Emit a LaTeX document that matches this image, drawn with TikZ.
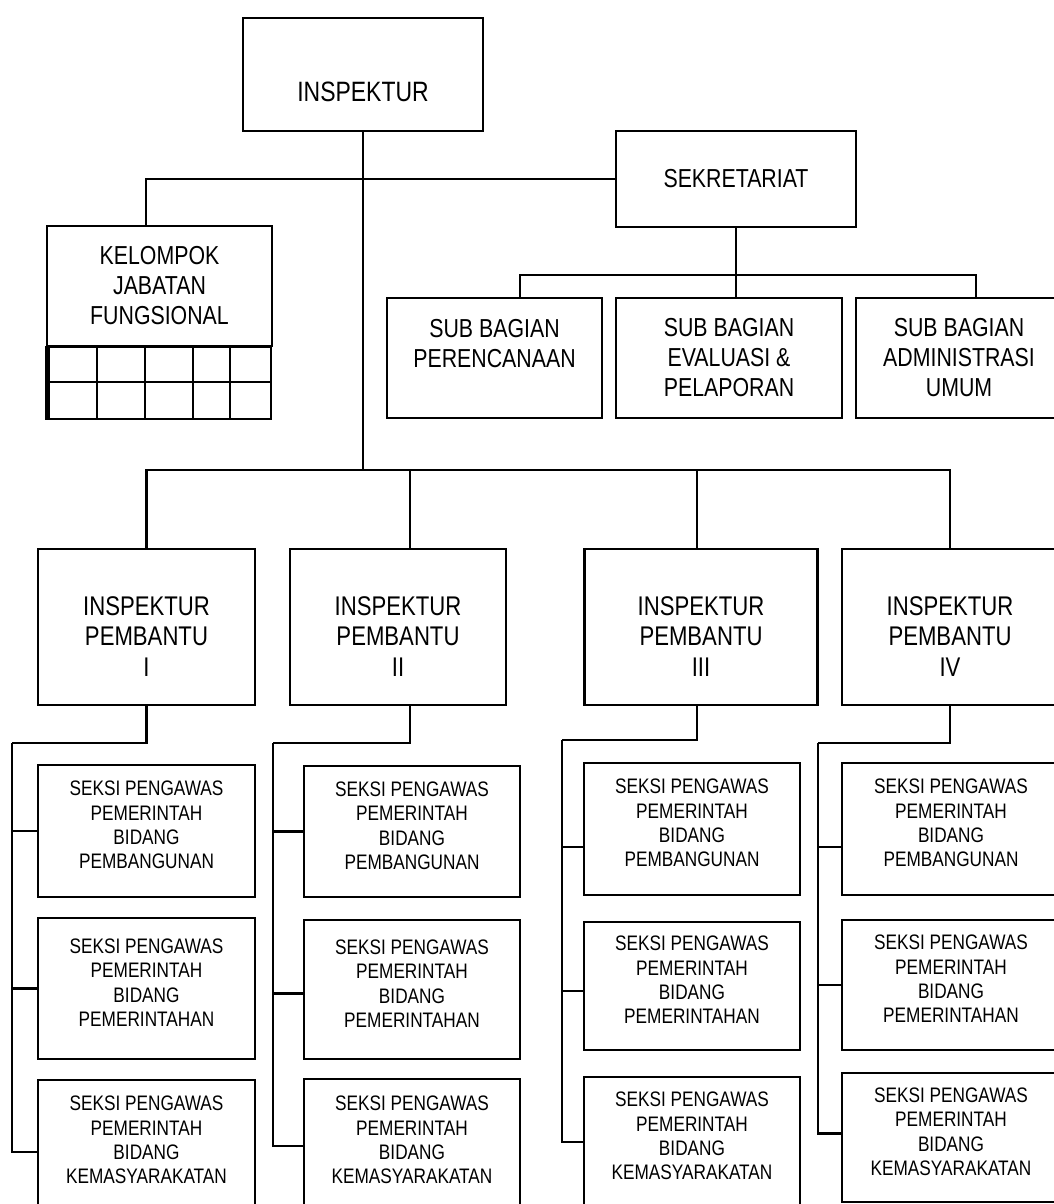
\documentclass[tikz,border=0pt]{standalone}
\usepackage{fontspec}
\setmainfont[FakeStretch=0.82]{Liberation Sans}
\newcommand{\seksitext}[1]{SEKSI PENGAWAS\\PEMERINTAH\\BIDANG\\#1\rule[-12pt]{0pt}{12pt}}
\newcommand{\ipbtext}[1]{\rule{0pt}{37pt}INSPEKTUR\\PEMBANTU\\#1}
\begin{document}
\begin{tikzpicture}[x=1pt, y=-1pt, line width=2.1pt,
        org_box/.style={rectangle, draw=black, line width=2.1pt, align=center, inner sep=0pt},
        main_box/.style={org_box, font=\fontsize{28}{32}\selectfont, minimum width=240pt},
        sub_box/.style={org_box, font=\fontsize{26}{30}\selectfont, minimum height=120pt},
        pembantu_box/.style={org_box, font=\fontsize{27}{30.5}\selectfont, minimum height=156pt},
        seksi_box/.style={org_box, font=\fontsize{21}{24.4}\selectfont},]
        \useasboundingbox (0,0) rectangle (1053,1204);

        % Pimpinan
        \node[main_box, minimum height=113pt] (insp) at (363,74.5) {\strut\\INSPEKTUR};
        \node[main_box, font=\fontsize{26}{30}\selectfont, minimum height=96pt] (sekr) at (736,179) {SEKRETARIAT};
        \node[sub_box, minimum width=225pt] (kjf) at (159.5,286) {KELOMPOK\\JABATAN\\FUNGSIONAL};

        % Sub bagian
        \node[sub_box, minimum width=215pt] (sb1) at (494.5,358) {SUB BAGIAN\\PERENCANAAN\\\mbox{}};
        \node[sub_box, minimum width=226pt] (sb2) at (729,358) {SUB BAGIAN\\EVALUASI \&\\PELAPORAN};
        \node[sub_box, minimum width=206pt] (sb3) at (959,358) {SUB BAGIAN\\ADMINISTRASI\\UMUM};

        % Inspektur pembantu
        \node[pembantu_box, minimum width=217pt] (ip1) at (146.5,627) {\ipbtext{I}};
        \node[pembantu_box, minimum width=216pt] (ip2) at (398,627) {\ipbtext{II}};
        \node[pembantu_box, minimum width=233pt] (ip3) at (701,627) {\ipbtext{III}};
        \node[pembantu_box, minimum width=216pt] (ip4) at (950,627) {\ipbtext{IV}};

        % Seksi
        \node[seksi_box, minimum width=217pt, minimum height=132pt] (s11) at (146.5,831) {\seksitext{PEMBANGUNAN}};
        \node[seksi_box, minimum width=217pt, minimum height=141pt] (s12) at (146.5,988.5) {\seksitext{PEMERINTAHAN}};
        \node[seksi_box, minimum width=217pt, minimum height=132pt] (s13) at (146.5,1146) {\seksitext{KEMASYARAKATAN}};
        \node[seksi_box, minimum width=216pt, minimum height=131pt] (s21) at (412,831.5) {\seksitext{PEMBANGUNAN}};
        \node[seksi_box, minimum width=216pt, minimum height=139pt] (s22) at (412,989.5) {\seksitext{PEMERINTAHAN}};
        \node[seksi_box, minimum width=216pt, minimum height=134pt] (s23) at (412,1146) {\seksitext{KEMASYARAKATAN}};
        \node[seksi_box, minimum width=216pt, minimum height=132pt] (s31) at (692,829) {\seksitext{PEMBANGUNAN}};
        \node[seksi_box, minimum width=216pt, minimum height=128pt] (s32) at (692,986) {\seksitext{PEMERINTAHAN}};
        \node[seksi_box, minimum width=216pt, minimum height=130pt] (s33) at (692,1142) {\seksitext{KEMASYARAKATAN}};
        \node[seksi_box, minimum width=218pt, minimum height=132pt] (s41) at (951,829) {\seksitext{PEMBANGUNAN}};
        \node[seksi_box, minimum width=218pt, minimum height=130pt] (s42) at (951,985) {\seksitext{PEMERINTAHAN}};
        \node[seksi_box, minimum width=218pt, minimum height=129pt] (s43) at (951,1137.5) {\seksitext{KEMASYARAKATAN}};

        % Kotak jabatan fungsional
        \draw (kjf.south west) rectangle ++(225,72);
        \draw ([yshift=-35pt]kjf.south west) -- ++(225,0);
        \foreach \x in {2.5,51,99,147,184} \draw ([xshift=\x pt]kjf.south west) -- ++(0,72);

        % Garis
        \coordinate (hub) at (363,470);
        \coordinate (sbus) at (736,275);
        \draw (insp.south) -- (hub);
        \draw ([xshift=-13.5pt]kjf.north) |- (sekr.west);
        \draw (sekr.south) -- (sekr.south |- sb2.north);
        \draw ([xshift=25.5pt]sb1.north) |- (sbus) -| ([xshift=17pt]sb3.north);
        \draw (ip1.north) |- (hub);
        \draw ([xshift=12pt]ip2.north) |- (hub);
        \draw ([xshift=-4pt]ip3.north) |- (hub);
        \draw (ip4.north) |- (hub);

        \coordinate (b1) at (12,743);
        \coordinate (b2) at (273,743);
        \coordinate (b3) at (562,740);
        \coordinate (b4) at (818,743);
        \draw (ip1.south) |- (b1);
        \draw ([xshift=12pt]ip2.south) |- (b2);
        \draw ([xshift=-4pt]ip3.south) |- (b3);
        \draw (ip4.south) |- (b4);
        \draw (s11.west) -| (b1);
        \draw (s12.west) -| (b1);
        \draw ([yshift=-6pt]s13.west) -| (b1);
        \draw (s21.west) -| (b2);
        \draw ([yshift=-4pt]s22.west) -| (b2);
        \draw (s23.west) -| (b2);
        \draw ([yshift=-18pt]s31.west) -| (b3);
        \draw ([yshift=-5pt]s32.west) -| (b3);
        \draw (s33.west) -| (b3);
        \draw ([yshift=-18pt]s41.west) -| (b4);
        \draw (s42.west) -| (b4);
        \draw ([yshift=4pt]s43.west) -| (b4);
\end{tikzpicture}
\end{document}
